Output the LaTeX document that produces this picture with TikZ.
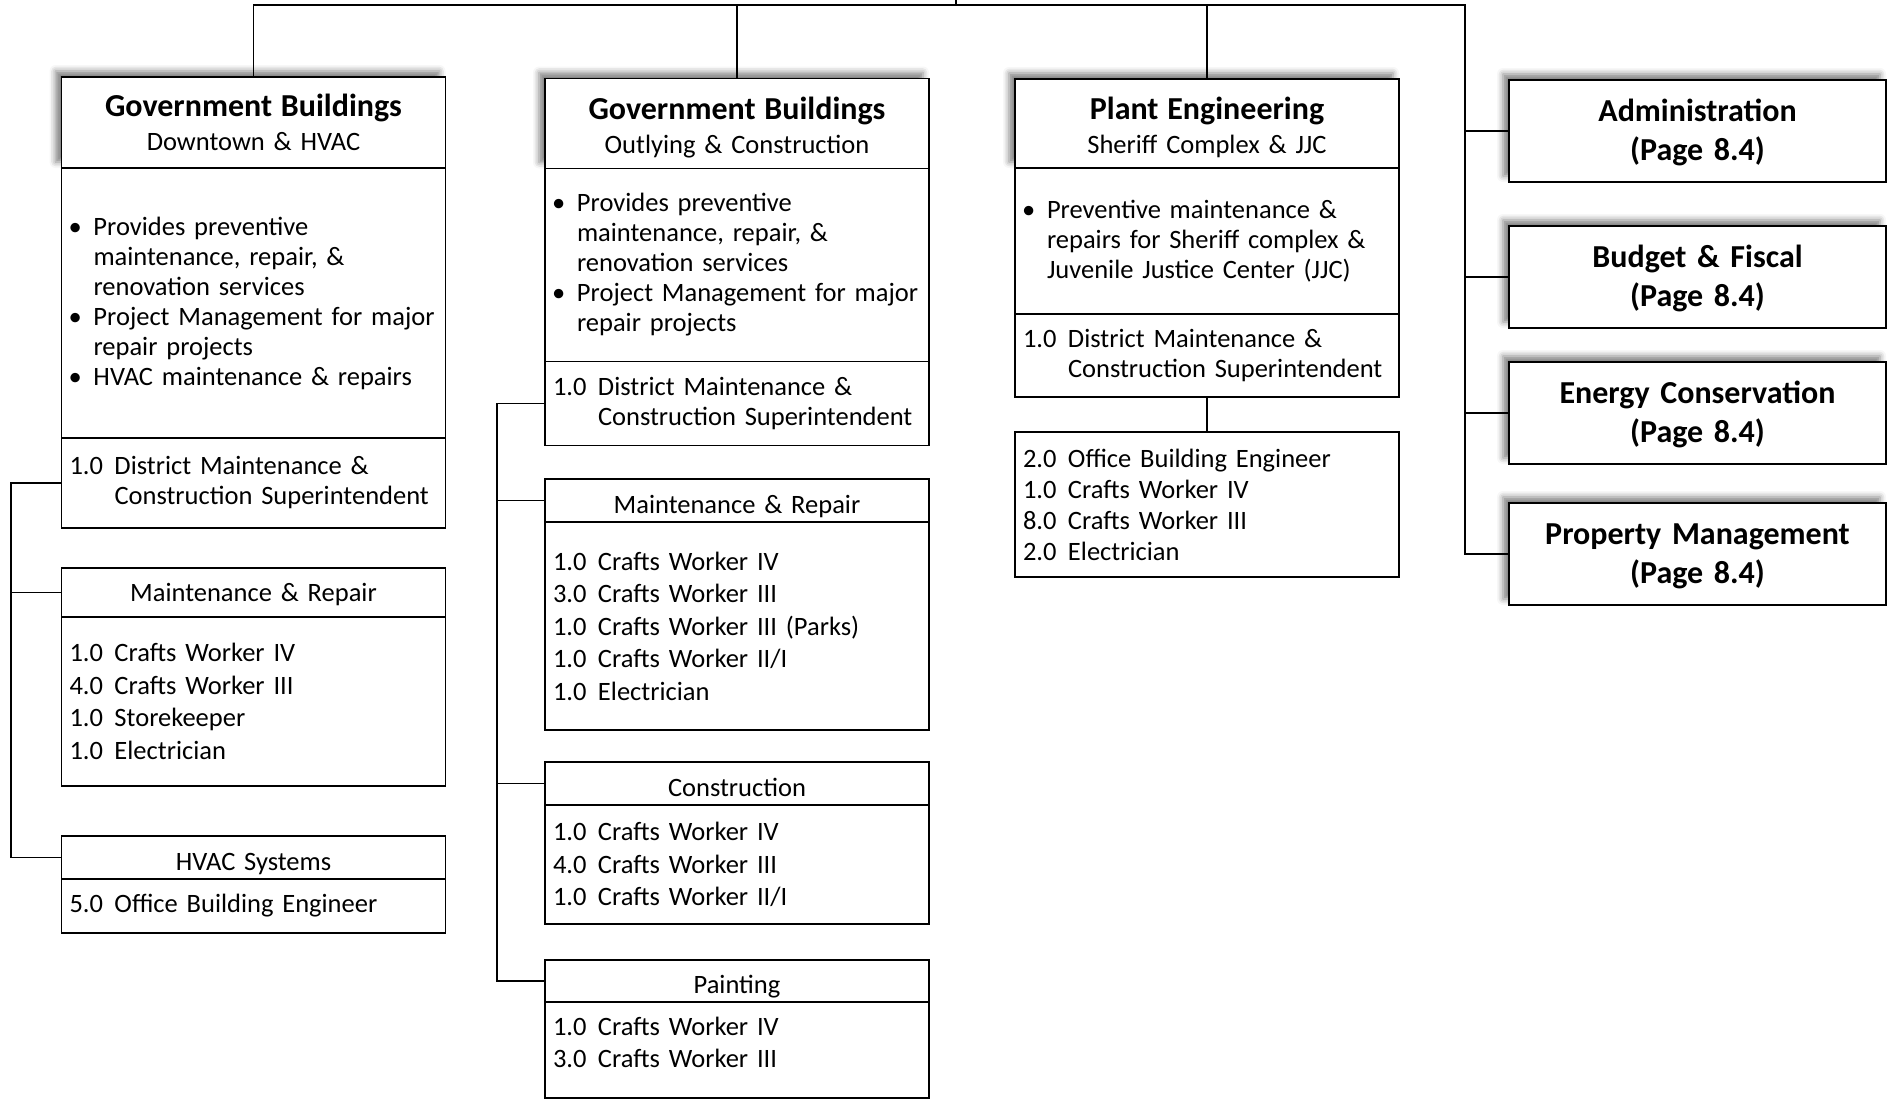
\documentclass[tikz,border=0pt]{standalone}
\usepackage{fontspec}
\setmainfont{Carlito}
\usetikzlibrary{positioning,shadows.blur}
\newcommand{\bul}{\makebox[12pt][l]{\hspace{-0.5pt}\textbullet}}
\newcommand{\ind}{\hspace*{12pt}}
\newcommand{\fte}[2]{\makebox[22.5pt][l]{#1}#2}
\newcommand{\ttl}[1]{{\fontsize{16}{17}\selectfont\bfseries #1}}
\begin{document}
\begin{tikzpicture}[x=0.5pt,y=-0.5pt,
  every node/.style={draw,fill=white,line width=0.8pt,outer sep=0pt,
    inner xsep=4pt,inner ysep=0pt,text width=184pt,
    font=\fontsize{13.25}{16.25}\selectfont},
  head/.style={align=center,minimum height=#1,anchor=north west,
    font=\fontsize{13.25}{17}\selectfont,
    blur shadow={shadow xshift=-3pt,shadow yshift=3pt,shadow blur radius=3pt,shadow opacity=50}},
  side/.style={head=51pt,text width=180.5pt,text height=13pt,font=\fontsize{16}{19.6}\selectfont\bfseries},
  sect/.style={align=center,minimum height=#1,text height=12.5pt,text depth=0pt},
  body/.style={align=left,minimum height=#1},
  tight/.style={font=\fontsize{13.25}{15}\selectfont},
  link/.style={line width=0.7pt}]
  \useasboundingbox (0,0) rectangle (1891,1102);
  \node[head=45.5pt] (gbd) at (61.5,77) {\ttl{Government Buildings}\\ Downtown \& HVAC};
  \node[body=135pt,tight,below=0pt of gbd] (gbdb) {\bul Provides preventive\\ \ind maintenance, repair, \&\\
    \ind renovation services\\ \bul Project Management for major\\ \ind repair projects\\ \bul HVAC maintenance \& repairs};
  \node[body=45pt,tight,below=0pt of gbdb] (gbdd) {\fte{1.0}{District Maintenance \&}\\ \fte{}{Construction Superintendent}};
  \node[sect=24.5pt,text height=8.5pt,anchor=north west] (mrd) at (61.5,568) {Maintenance \& Repair};
  \node[body=84.5pt,below=0pt of mrd] (mrdb) {\fte{1.0}{Crafts Worker IV}\\ \fte{4.0}{Crafts Worker III}\\
    \fte{1.0}{Storekeeper}\\ \fte{1.0}{Electrician}};
  \node[sect=21.5pt,anchor=north west] (hvac) at (61.5,836) {HVAC Systems};
  \node[body=27pt,below=0pt of hvac] (hvacb) {\fte{5.0}{Office Building Engineer}};

  \node[head=45pt,text height=15pt] (gbo) at (545,78.5) {\ttl{Government Buildings}\\ Outlying \& Construction};
  \node[body=96.5pt,tight,below=0pt of gbo] (gbob) {\bul Provides preventive\\ \ind maintenance, repair, \&\\
    \ind renovation services\\ \bul Project Management for major\\ \ind repair projects};
  \node[body=42pt,tight,below=0pt of gbob] (gbod) {\fte{1.0}{District Maintenance \&}\\ \fte{}{Construction Superintendent}};
  \node[sect=21.5pt,anchor=north west] (mro) at (545,479) {Maintenance \& Repair};
  \node[body=104pt,below=0pt of mro] (mrob) {\fte{1.0}{Crafts Worker IV}\\ \fte{3.0}{Crafts Worker III}\\
    \fte{1.0}{Crafts Worker III (Parks)}\\ \fte{1.0}{Crafts Worker II/I}\\ \fte{1.0}{Electrician}};
  \node[sect=21.5pt,anchor=north west] (con) at (545,762) {Construction};
  \node[body=59.5pt,below=0pt of con] (conb) {\fte{1.0}{Crafts Worker IV}\\ \fte{4.0}{Crafts Worker III}\\
    \fte{1.0}{Crafts Worker II/I}};
  \node[sect=21pt,anchor=north west] (pnt) at (545,960) {Painting};
  \node[body=48pt,text depth=24pt,below=0pt of pnt] (pntb) {\fte{1.0}{Crafts Worker IV}\\ \fte{3.0}{Crafts Worker III}};

  \node[head=44.5pt,text height=15pt] (pe) at (1015,79) {\ttl{Plant Engineering}\\ Sheriff Complex \& JJC};
  \node[body=73pt,tight,below=0pt of pe] (peb) {\bul Preventive maintenance \&\\ \ind repairs for Sheriff complex \&\\
    \ind Juvenile Justice Center (JJC)};
  \node[body=41.5pt,tight,below=0pt of peb] (ped) {\fte{1.0}{District Maintenance \&}\\ \fte{}{Construction Superintendent}};
  \node[body=72.5pt,anchor=north west,font=\fontsize{13.25}{15.5}\selectfont] (pes) at (1015,432)
    {\fte{2.0}{Office Building Engineer}\\ \fte{1.0}{Crafts Worker IV}\\ \fte{8.0}{Crafts Worker III}\\ \fte{2.0}{Electrician}};

  \node[side] (adm) at (1509,80) {Administration\\ (Page 8.4)};
  \node[side] (bud) at (1509,226) {Budget \& Fiscal\\ (Page 8.4)};
  \node[side] (ene) at (1509,362) {Energy Conservation\\ (Page 8.4)};
  \node[side] (prop) at (1509,503) {Property Management\\ (Page 8.4)};

  \coordinate (root) at (956,0);
  \coordinate (bus) at (1465,5);
  \coordinate (lrail) at (11,0);
  \coordinate (orail) at (497,0);
  \draw[link] (gbd.north) |- (bus) |- (prop.west);
  \draw[link] (root) -- (root |- bus);
  \foreach \n in {gbo,pe} \draw[link] (\n.north) -- (\n.north |- bus);
  \foreach \n in {adm,bud,ene} \draw[link] (\n.west) -- (\n.west -| bus);
  \draw[link] (gbdd.west) -| (lrail |- hvac.west) -- (hvac.west);
  \draw[link] (mrd.west) -- (mrd.west -| lrail);
  \draw[link] (gbod.west) -| (orail |- pnt.west) -- (pnt.west);
  \foreach \n in {mro,con} \draw[link] (\n.west) -- (\n.west -| orail);
  \draw[link] (ped.south) -- (pes.north);
\end{tikzpicture}
\end{document}
